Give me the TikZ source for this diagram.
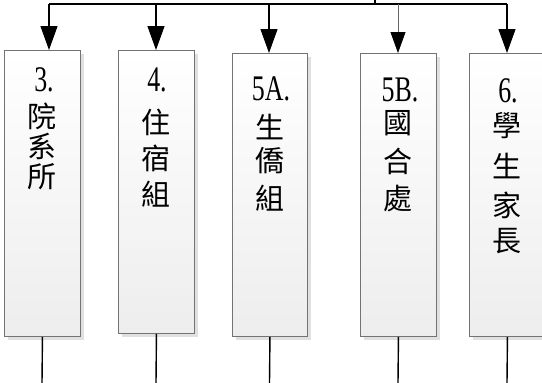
\documentclass[tikz,border=0pt]{standalone}
\usepackage{fontspec}
\newfontfamily\cjk{Noto Sans CJK TC}
\newfontfamily\digfont[FakeStretch=0.72]{Liberation Serif}
\usetikzlibrary{arrows.meta,shadows}
\tikzset{
  orgbox/.style={draw=black!55, line width=0.9pt, shading=axis, top color=white, bottom color=black!7,
    inner sep=0pt, anchor=north west, drop shadow={shadow xshift=4pt, shadow yshift=-4pt, fill=black!12, opacity=1}},
  cjktext/.style={font={\cjk\fontsize{29}{30}\selectfont}, inner sep=0pt, text=black},
  digtext/.style={font={\digfont\fontsize{36}{37}\selectfont}, inner sep=0pt, text=black},
  bus/.style={line width=1.6pt, black},
  feed/.style={line width=1.3pt, black, -{Triangle[length=24pt,width=17pt]}},
  feedthin/.style={line width=0.8pt, black!60, -{Triangle[length=21pt,width=15pt,fill=black,color=black]}},
  outline/.style={line width=1.4pt, black}
}
\begin{document}
\begin{tikzpicture}[x=1pt,y=-1pt]
\useasboundingbox (0,0) rectangle (542,383);
\clip (0,0) rectangle (542,383);
% boxes
\node[orgbox, minimum width=76pt, minimum height=286pt] (b1) at (4,50) {};
\node[orgbox, minimum width=76pt, minimum height=283pt] (b2) at (118,50) {};
\node[orgbox, minimum width=75pt, minimum height=283pt] (b3) at (232,53) {};
\node[orgbox, minimum width=76pt, minimum height=283pt] (b4) at (360,53) {};
\node[orgbox, minimum width=76pt, minimum height=283pt] (b5) at (469,53) {};
% texts
\node[digtext] (d1) at (44,80) {3.};
\node[cjktext] (c1a) at (42,116) {院};
\node[cjktext] (c1b) at (42,146) {系};
\node[cjktext] (c1c) at (42,177) {所};
\node[digtext] (d2) at (157,80) {4.};
\node[cjktext] (c2a) at (156,122) {住};
\node[cjktext] (c2b) at (156,158) {宿};
\node[cjktext] (c2c) at (156,194) {組};
\node[digtext] (d3) at (271,89) {5A.};
\node[cjktext] (c3a) at (269.5,127) {生};
\node[cjktext] (c3b) at (269.5,161) {僑};
\node[cjktext] (c3c) at (269.5,198) {組};
\node[digtext] (d4) at (400,90) {5B.};
\node[cjktext] (c4a) at (398,123) {國};
\node[cjktext] (c4b) at (398,161) {合};
\node[cjktext] (c4c) at (398,199) {處};
\node[digtext] (d5) at (508,91) {6.};
\node[cjktext] (c5a) at (507,126) {學};
\node[cjktext] (c5b) at (507,166) {生};
\node[cjktext] (c5c) at (507,205) {家};
\node[cjktext] (c5d) at (507,241) {長};
% bus
\coordinate (j1) at (49,4);
\coordinate (j2) at (156,4);
\coordinate (j3) at (269,4);
\coordinate (j4) at (398,4);
\coordinate (j5) at (507,4);
\coordinate (in) at (375,0);
\draw[bus] (j1) -- (j5);
\draw[bus] (in) -- (in |- j1);
\draw[feed] (j1) -- (j1 |- b1.north);
\draw[feed] (j2) -- (j2 |- b2.north);
\draw[feed] (j3) -- (j3 |- b3.north);
\draw[feedthin] (j4) -- (j4 |- b4.north);
\draw[feed] (j5) -- (j5 |- b5.north);
% outgoing lines
\coordinate (o1) at (42,383);
\coordinate (o2) at (156,383);
\coordinate (o3) at (269.5,383);
\coordinate (o4) at (398,383);
\coordinate (o5) at (507,383);
\draw[outline] (b1.south) -- (o1);
\draw[outline] (b2.south) -- (o2);
\draw[outline] (b3.south) -- (o3);
\draw[outline] (b4.south) -- (o4);
\draw[outline] (b5.south) -- (o5);
\end{tikzpicture}
\end{document}
